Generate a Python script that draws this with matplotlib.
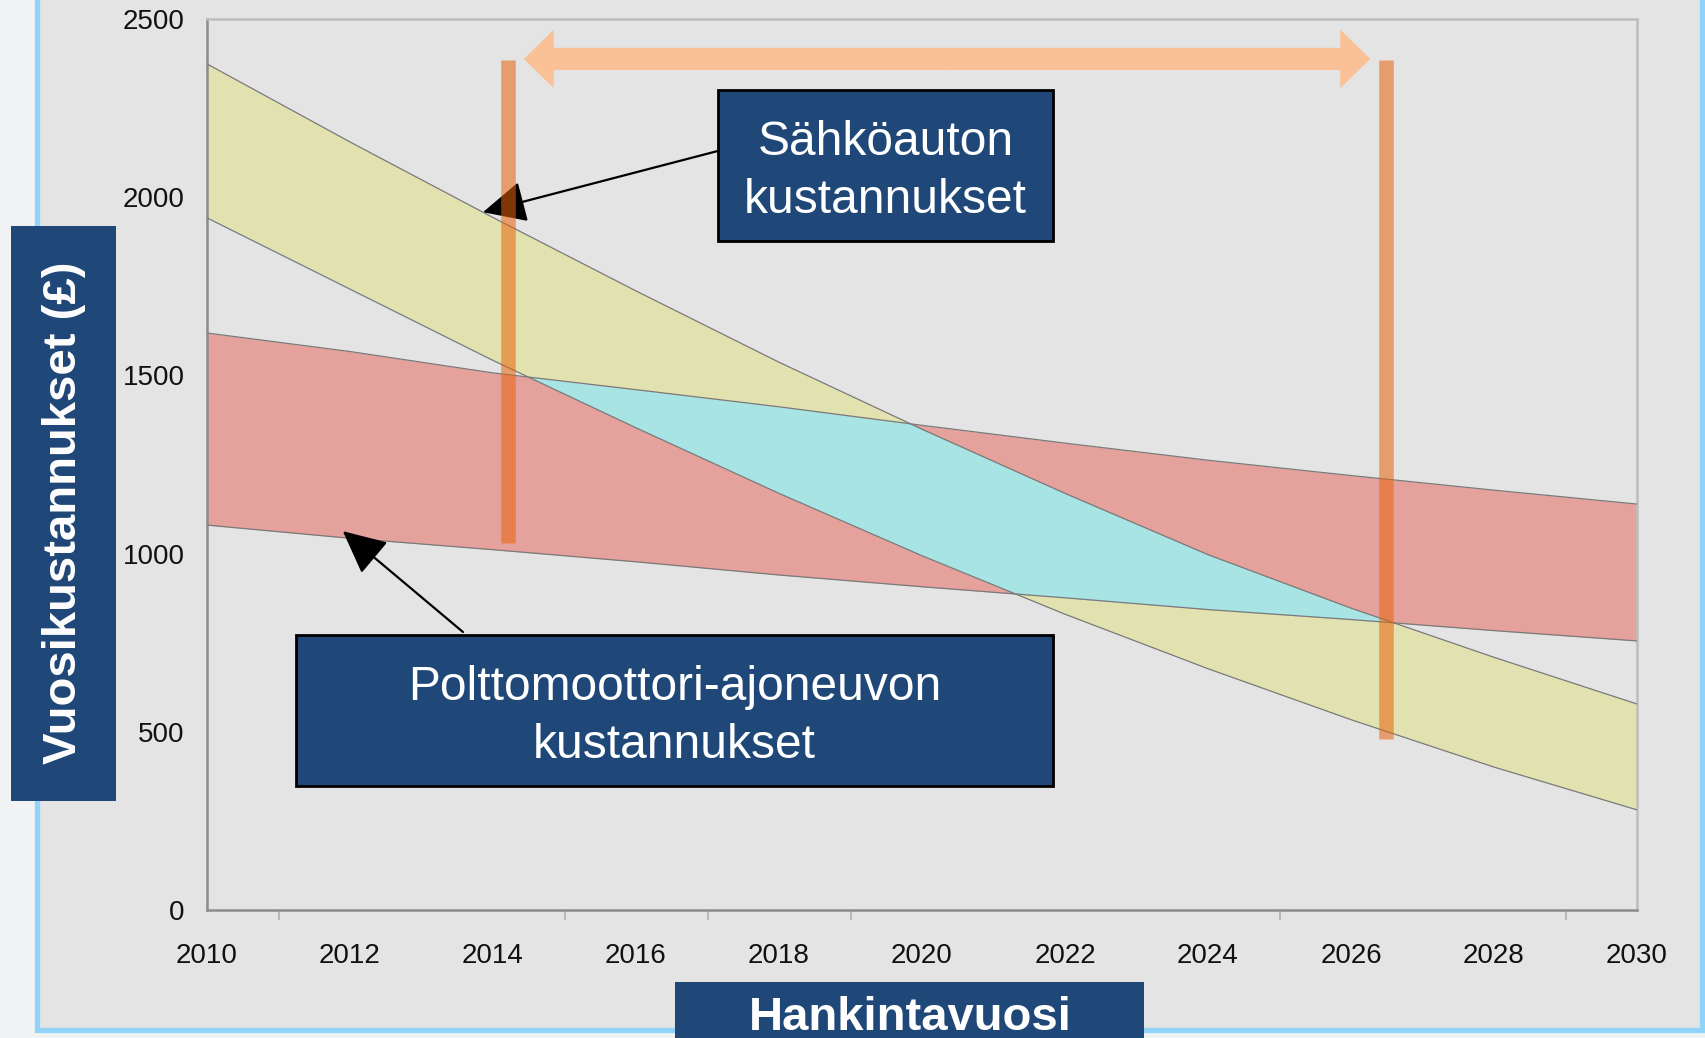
import numpy as np
import matplotlib
matplotlib.use("Agg")
import matplotlib.pyplot as plt
import matplotlib.patches as mpatches

plt.rcParams['font.family'] = ['Liberation Sans', 'DejaVu Sans']

# values (GBP per year)
years = [2010, 2012, 2014, 2016, 2018, 2020, 2022, 2024, 2026, 2028, 2030]
ev_high = [2374, 2155, 1943, 1737, 1537, 1349, 1169, 997, 847, 709, 578]
ev_low = [1942, 1742, 1542, 1353, 1169, 994, 830, 677, 534, 401, 281]
ice_high = [1619, 1567, 1507, 1460, 1412, 1360, 1310, 1262, 1219, 1178, 1139]
ice_low = [1080, 1043, 1011, 977, 940, 907, 876, 843, 815, 784, 755]

y_ticks = [0, 500, 1000, 1500, 2000, 2500]
x_labels = [2010, 2012, 2014, 2016, 2018, 2020, 2022, 2024, 2026, 2028, 2030]
x_tick_marks = [2011, 2012, 2015, 2017, 2018, 2019, 2020, 2022, 2024, 2025, 2026, 2028, 2029]

# break-even markers and the span between them
bar_years = [2014.21, 2026.49]
bar_bottoms = [1030, 480]
bar_top = 2385
span_start, span_end, span_level = 2014.43, 2026.27, 2388

ev_text = "Sähköauton\nkustannukset"
ice_text = "Polttomoottori-ajoneuvon\nkustannukset"

W, H = 1705, 1038
BLUE = '#1f4878'


def fx(px):
    return px / W


def fy(py):
    return 1 - py / H


fig = plt.figure(figsize=(W / 100, H / 100), dpi=100)
fig.patch.set_facecolor('#f1f2f4')

# slide frame
fig.patches.append(mpatches.Rectangle((fx(37), fy(1030)), fx(1702) - fx(37), 1.2,
                                      transform=fig.transFigure, facecolor='#e4e4e4',
                                      edgecolor='#90d4fa', linewidth=3.8, zorder=-5))

ax = fig.add_axes([fx(207), fy(910), fx(1637) - fx(207), fy(19) - fy(910)])
ax.set_facecolor('#e4e4e4')

ax.fill_between(years, ev_low, ev_high, color='#e2e2b0', linewidth=0, zorder=1)
ax.fill_between(years, ice_low, ice_high, color='#e5a19b', linewidth=0, zorder=1)

xs = np.linspace(2010, 2030, 2001)
lo = np.maximum(np.interp(xs, years, ev_low), np.interp(xs, years, ice_low))
hi = np.minimum(np.interp(xs, years, ev_high), np.interp(xs, years, ice_high))
ax.fill_between(xs, lo, hi, where=hi > lo, interpolate=True, color='#a8e4e4',
                linewidth=0, zorder=2)

for series in (ev_high, ev_low, ice_high, ice_low):
    ax.plot(years, series, color='#7a7a7a', lw=0.9, zorder=3)

# arrows from the label boxes
ax.annotate('', xy=(2013.86, 1958), xytext=(2017.15, 2130),
            arrowprops=dict(arrowstyle='-|>,head_length=1.35,head_width=0.65',
                            mutation_scale=20, color='black', lw=1.6,
                            shrinkA=0, shrinkB=0), zorder=4)
ax.annotate('', xy=(2011.9, 1063), xytext=(2013.58, 780),
            arrowprops=dict(arrowstyle='-|>,head_length=1.35,head_width=0.65',
                            mutation_scale=20, color='black', lw=1.6,
                            shrinkA=0, shrinkB=0), zorder=4)

ax.vlines(bar_years, bar_bottoms, bar_top, colors=[(0.91, 0.39, 0.04)],
          alpha=0.55, linewidth=10.5, zorder=5, capstyle='butt')

mid = (span_start + span_end) / 2
for end in (span_start, span_end):
    ax.add_patch(mpatches.FancyArrowPatch(
        (mid, span_level), (end, span_level),
        arrowstyle='simple,head_length=1.08,head_width=2.1,tail_width=0.8',
        mutation_scale=20, color='#f9c195', lw=0, shrinkA=0, shrinkB=0, zorder=6))

ax.set_xlim(2010, 2030)
ax.set_ylim(0, 2500)
ax.set_xticks(x_labels)
ax.set_xticklabels([str(y) for y in x_labels])
ax.set_xticks(x_tick_marks, minor=True)
ax.set_yticks(y_ticks)
ax.set_yticks([0], minor=True)
ax.tick_params(axis='x', which='major', length=0, pad=24, labelsize=20, labelcolor='#111111')
ax.tick_params(axis='x', which='minor', length=7.5, width=1.2, color='#b0b0b0', direction='out')
ax.tick_params(axis='y', which='major', length=0, pad=16, labelsize=20, labelcolor='#111111')
ax.tick_params(axis='y', which='minor', length=8, width=1.2, color='#b0b0b0')

for side in ('left', 'bottom'):
    ax.spines[side].set_color('#8c8c8c')
    ax.spines[side].set_linewidth(1.8)
for side in ('top', 'right'):
    ax.spines[side].set_color('#bdbdbd')
    ax.spines[side].set_linewidth(1.8)

# axis title boxes
fig.patches.append(mpatches.Rectangle((fx(11), fy(801)), fx(116) - fx(11), fy(226) - fy(801),
                                      transform=fig.transFigure, facecolor=BLUE,
                                      edgecolor='none', zorder=5))
fig.text(fx(64), fy(513), 'Vuosikustannukset (£)', rotation=90, ha='center', va='center',
         color='white', fontsize=34, fontweight='bold', zorder=6)

fig.patches.append(mpatches.Rectangle((fx(675), 0), fx(1144) - fx(675), fy(982),
                                      transform=fig.transFigure, facecolor=BLUE,
                                      edgecolor='none', zorder=5))
fig.text(fx(910), fy(1030), 'Hankintavuosi', ha='center', va='baseline',
         color='white', fontsize=34, fontweight='bold', zorder=6)

# callout boxes
for (x0, y0, x1, y1), label in (((718, 90, 1053, 241), ev_text),
                                ((296, 635, 1053, 786), ice_text)):
    fig.patches.append(mpatches.Rectangle((fx(x0), fy(y1)), fx(x1) - fx(x0), fy(y0) - fy(y1),
                                          transform=fig.transFigure, facecolor=BLUE,
                                          edgecolor='black', linewidth=2, zorder=5))
    fig.text(fx((x0 + x1) / 2), fy((y0 + y1) / 2 + 6), label, ha='center', va='center',
             color='white', fontsize=34.5, linespacing=1.36, zorder=6)

fig.savefig('out.png', dpi=100, facecolor=fig.get_facecolor())
